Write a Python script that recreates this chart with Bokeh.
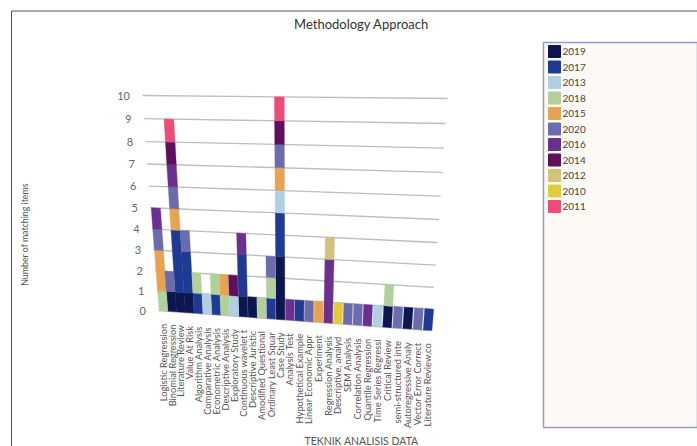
from bokeh.plotting import figure
from bokeh.models import Range1d
from bokeh.core.properties import value as val
from bokeh.embed import file_html
from bokeh.resources import INLINE

categories = ["Logistic Regression", "Binomial Regression", "Literature Review", "Value At Risk",
              "Algorithm Analysis", "Comparative Analysis", "Econometric Analysis", "Descriptive Analysis",
              "Exploratory Study", "Continuous wavelet t", "Descriptive Juristic", "Amodified Questional",
              "Ordinary Least Squar", "Case Study", "Analysis Test", "Hypothetical Example",
              "Linear Economic Appr", "Experiment", "Regression Analysis", "Descriptive, analyd",
              "SEM Analysis", "Correlation Analysis", "Quantile Regression", "Time Series Regressi",
              "Critical Review", "semi-structured inte", "Autoregressive Analy", "Vector Error Correct",
              "Literature Review,co"]
years = ["2019", "2017", "2013", "2018", "2015", "2020", "2016", "2014", "2012", "2010", "2011"]
colors = ["#0d1650", "#1f3a93", "#b0cfe0", "#b2d09c", "#e6a352", "#6a6cac", "#6b2f8f", "#5f0f5c",
          "#d4c27a", "#e2cb3a", "#ee4b78"]
y2019 = [0, 1, 1, 1, 0, 0, 0, 0, 0, 1, 1, 0, 0, 3, 0, 0, 0, 0, 0, 0, 0, 0, 0, 0, 1, 0, 1, 0, 0]
y2017 = [0, 0, 3, 2, 1, 0, 1, 0, 0, 2, 0, 0, 1, 2, 0, 1, 0, 0, 0, 0, 0, 0, 0, 0, 0, 0, 0, 0, 1]
y2013 = [0, 0, 0, 0, 0, 1, 0, 0, 1, 0, 0, 0, 0, 1, 0, 0, 0, 0, 0, 0, 0, 0, 0, 1, 0, 0, 0, 0, 0]
y2018 = [1, 0, 0, 0, 1, 0, 1, 1, 0, 0, 0, 1, 1, 0, 0, 0, 0, 0, 0, 0, 0, 0, 0, 0, 1, 0, 0, 0, 0]
y2015 = [2, 0, 1, 0, 0, 0, 0, 1, 0, 0, 0, 0, 0, 1, 0, 0, 0, 1, 0, 0, 0, 0, 0, 0, 0, 0, 0, 0, 0]
y2020 = [1, 1, 1, 1, 0, 0, 0, 0, 0, 0, 0, 0, 1, 1, 0, 0, 1, 0, 0, 0, 1, 1, 0, 0, 0, 1, 0, 1, 0]
y2016 = [1, 0, 1, 0, 0, 0, 0, 0, 0, 1, 0, 0, 0, 0, 1, 0, 0, 0, 3, 0, 0, 0, 1, 0, 0, 0, 0, 0, 0]
y2014 = [0, 0, 1, 0, 0, 0, 0, 0, 1, 0, 0, 0, 0, 1, 0, 0, 0, 0, 0, 0, 0, 0, 0, 0, 0, 0, 0, 0, 0]
y2012 = [0, 0, 0, 0, 0, 0, 0, 0, 0, 0, 0, 0, 0, 0, 0, 0, 0, 0, 1, 0, 0, 0, 0, 0, 0, 0, 0, 0, 0]
y2010 = [0, 0, 0, 0, 0, 0, 0, 0, 0, 0, 0, 0, 0, 0, 0, 0, 0, 0, 0, 1, 0, 0, 0, 0, 0, 0, 0, 0, 0]
y2011 = [0, 0, 1, 0, 0, 0, 0, 0, 0, 0, 0, 0, 0, 1, 0, 0, 0, 0, 0, 0, 0, 0, 0, 0, 0, 0, 0, 0, 0]
series = [y2019, y2017, y2013, y2018, y2015, y2020, y2016, y2014, y2012, y2010, y2011]
ticks = list(range(0, 11))

FONT = "Lato"
W, H = 697, 446


def x_left(v):
    return 158 - 1.6 * v


def x_right(v):
    return 430 + 1.7 * v


def y_left(v):
    return 310 - 19.6 * v - 0.19 * v * v


def y_right(v):
    return 330 - 21.2 * v - 0.2 * v * v


def project(t, v):
    """Tilted chart plane: t runs along the category axis, v up the value axis."""
    return (x_left(v) + (x_right(v) - x_left(v)) * t,
            y_left(v) + (y_right(v) - y_left(v)) * t)


def col_t(i):
    return (163 + 8.63 * i + 0.0286 * i * i - 158) / 272


p = figure(width=W, height=H, output_backend="svg", toolbar_location=None,
           x_range=Range1d(0, W), y_range=Range1d(H, 0),
           min_border=0, outline_line_color=None, background_fill_color="white")
p.axis.visible = False
p.grid.visible = False

# page frame
p.line([11, 11, 697], [446, 10.5, 10.5], line_color="#555555", line_width=1)

# grid lines
for v in ticks:
    x0, y0 = project(0, v)
    x1, y1 = project(1, v)
    p.line([x0, x1], [y0, y1], line_color="#bdbdbd", line_width=1.3)

# tick labels
p.text([x_left(v) - 12.5 for v in ticks], [y_left(v) for v in ticks], text=[str(v) for v in ticks],
       text_font=val(FONT), text_font_size="11px", text_color="#666666",
       text_align="right", text_baseline="middle")

# stacked bars
HALF = 4.4 / 272
for k, (name, col, vals) in enumerate(zip(years, colors, series)):
    xs, ys = [], []
    for i, n in enumerate(vals):
        if n == 0:
            continue
        b = sum(s[i] for s in series[:k])
        t = col_t(i)
        c = [project(t - HALF, b), project(t + HALF, b), project(t + HALF, b + n), project(t - HALF, b + n)]
        xs.append([q[0] for q in c])
        ys.append([q[1] for q in c])
    p.patches(xs, ys, fill_color=col, line_color=col, line_width=0.5, line_alpha=0.6)

# category labels
lx, ly = [], []
for i in range(len(categories)):
    x, y = project(col_t(i), 0)
    lx.append(x)
    ly.append(y + 13)
p.text(lx, ly, text=categories, angle=1.5708, text_font=val(FONT), text_font_size="9.3px",
       text_color="#555555", text_align="right", text_baseline="middle")

# titles
p.text([361], [23], text=["Methodology Approach"], text_font=val(FONT), text_font_size="13px",
       text_color="#333333", text_align="center", text_baseline="middle")
p.text([24], [234], text=["Number of matching items"], angle=1.5708, text_font=val(FONT),
       text_font_size="8.8px", text_color="#555555", text_align="center", text_baseline="middle")
p.text([361], [440], text=["TEKNIK ANALISIS DATA"], text_font=val(FONT), text_font_size="10.5px",
       text_color="#555555", text_align="center", text_baseline="middle")

# legend panel
p.quad(left=[543], right=[697], top=[42], bottom=[427], fill_color="#fdfaf5",
       line_color="#9a98c8", line_width=1.5)
ry = [51 + 15.5 * k for k in range(len(years))]
p.quad(left=[548] * len(years), right=[560] * len(years), top=[r - 6 for r in ry], bottom=[r + 6 for r in ry],
       fill_color=colors, line_color=colors, line_width=1)
p.text([562] * len(years), ry, text=years, text_font=val(FONT), text_font_size="10px",
       text_color="#444444", text_align="left", text_baseline="middle")

open("out.html", "w").write(file_html(p, INLINE))
